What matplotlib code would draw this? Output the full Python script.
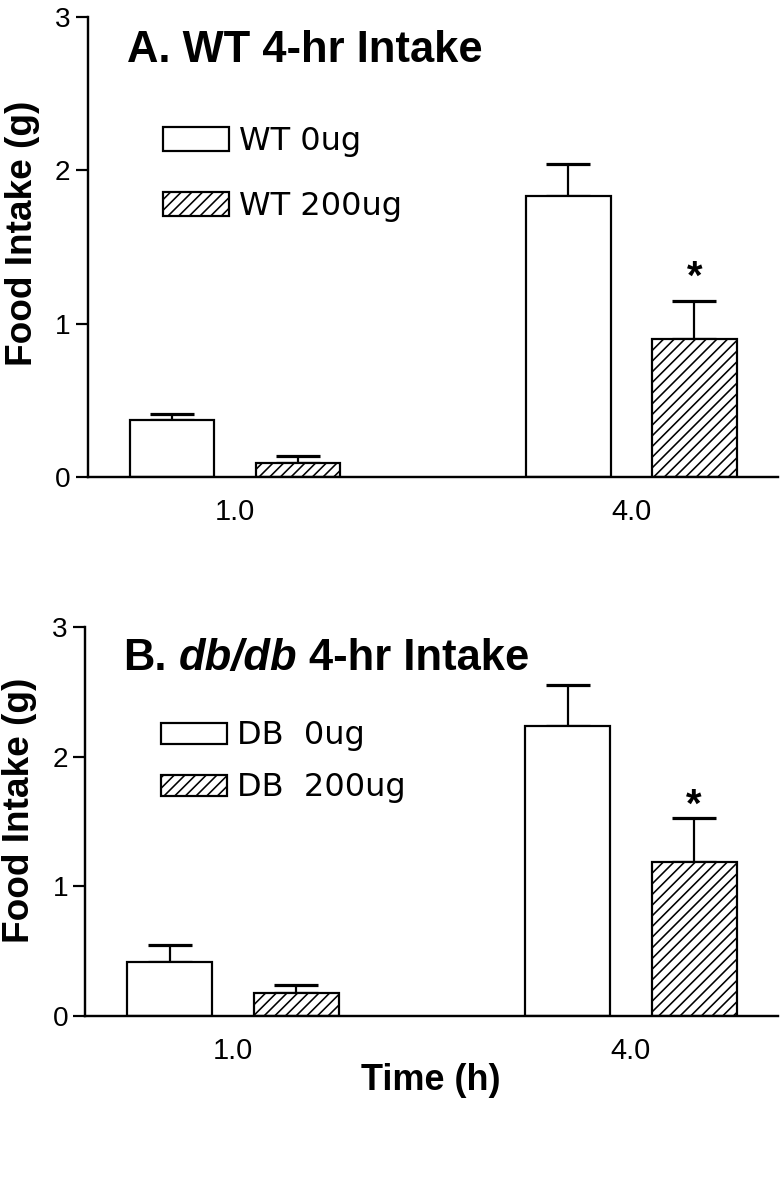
import numpy as np
import matplotlib
matplotlib.use('Agg')
import matplotlib.pyplot as plt

# values (g)
times = ['1.0', '4.0']
wt_0ug = [0.37, 1.83]
wt_0ug_sem = [0.04, 0.21]
wt_200ug = [0.09, 0.90]
wt_200ug_sem = [0.05, 0.25]
db_0ug = [0.42, 2.24]
db_0ug_sem = [0.13, 0.31]
db_200ug = [0.18, 1.19]
db_200ug_sem = [0.06, 0.34]
star_y = [1.30, 1.62]   # height of the '*' over the 200ug bar at 4.0 h
yticks = [0, 1, 2, 3]

DPI = 128


def pt(px):
    # pixel size -> points at this dpi
    return px * 72.0 / DPI


plt.rcParams['font.family'] = ['Liberation Sans', 'DejaVu Sans']
plt.rcParams['hatch.linewidth'] = pt(1.6)

fig = plt.figure(figsize=(782 / DPI, 1200 / DPI), dpi=DPI)
ax1 = fig.add_axes([0.1119, 0.6025, 0.8830, 0.3836])
ax2 = fig.add_axes([0.1087, 0.1533, 0.8862, 0.3242])

x = np.arange(len(times))
off = 0.159
w = 0.214


def panel(ax, ctrl, ctrl_sem, trt, trt_sem, labels, box_h, spacing, leg_y, sy):
    lw = pt(2.2)
    b1 = ax.bar(x - off, ctrl, w, color='white', edgecolor='black',
                linewidth=lw, label=labels[0], zorder=2)
    b2 = ax.bar(x + off, trt, w, color='white', edgecolor='black',
                hatch='////', linewidth=lw, label=labels[1], zorder=2)
    ax.errorbar(x - off, ctrl, yerr=[np.zeros(len(ctrl)), ctrl_sem],
                fmt='none', ecolor='black', elinewidth=pt(2.2),
                capsize=pt(22), capthick=pt(3.2), zorder=1)
    ax.errorbar(x + off, trt, yerr=[np.zeros(len(trt)), trt_sem],
                fmt='none', ecolor='black', elinewidth=pt(2.2),
                capsize=pt(22), capthick=pt(3.2), zorder=1)
    ax.text(x[1] + off, sy, '*', ha='center', va='center',
            fontsize=pt(40), fontweight='bold')

    ax.set_xlim(-0.372, 1.37)
    ax.set_ylim(0, 3)
    ax.set_yticks(yticks)
    ax.set_yticklabels([str(t) for t in yticks])
    ax.set_xticks(x)
    ax.set_xticklabels(times)
    for s in ['top', 'right']:
        ax.spines[s].set_visible(False)
    for s in ['left', 'bottom']:
        ax.spines[s].set_linewidth(pt(2.4))
    ax.tick_params(axis='y', direction='out', length=pt(12), width=pt(2.2),
                   pad=pt(5), labelsize=pt(28))
    ax.tick_params(axis='x', length=0, pad=pt(21), labelsize=pt(29))

    ax.set_ylabel('Food Intake (g)', fontsize=pt(37), fontweight='bold')
    ax.yaxis.label.set(ha='center', va='center')
    ax.yaxis.set_label_coords(-0.094, 0.53)

    fs = 32
    ax.legend(handles=[b1, b2], loc='upper left', frameon=False,
              bbox_to_anchor=(0.11, leg_y), borderpad=0, borderaxespad=0,
              handlelength=66 / fs, handleheight=box_h / fs,
              handletextpad=0.3, labelspacing=spacing,
              prop={'family': 'DejaVu Sans', 'size': pt(fs)})


panel(ax1, wt_0ug, wt_0ug_sem, wt_200ug, wt_200ug_sem,
      ['WT 0ug', 'WT 200ug'], 24, 1.06, 0.762, star_y[0])
panel(ax2, db_0ug, db_0ug_sem, db_200ug, db_200ug_sem,
      ['DB  0ug', 'DB  200ug'], 20, 0.66, 0.760, star_y[1])

tsize = pt(43.5)
ax1.text(0.057, 0.9016, 'A. WT 4-hr Intake', transform=ax1.transAxes,
         ha='left', va='baseline', fontsize=tsize, fontweight='bold')
t1 = ax2.text(0.055, 0.8895, 'B.', transform=ax2.transAxes,
              ha='left', va='baseline', fontsize=tsize, fontweight='bold')
t2 = ax2.annotate('db/db', xy=(1, 0), xycoords=t1, xytext=(pt(12), 0),
                  textcoords='offset points', ha='left', va='bottom',
                  fontsize=tsize, fontweight='bold', fontstyle='italic')
ax2.annotate('4-hr Intake', xy=(1, 0), xycoords=t2, xytext=(pt(12), 0),
             textcoords='offset points', ha='left', va='bottom',
             fontsize=tsize, fontweight='bold')

ax2.set_xlabel('Time (h)', fontsize=pt(36), fontweight='bold')
ax2.xaxis.label.set(va='center')
ax2.xaxis.set_label_coords(0.499, -0.1645)

fig.savefig('out.png', dpi=DPI)
